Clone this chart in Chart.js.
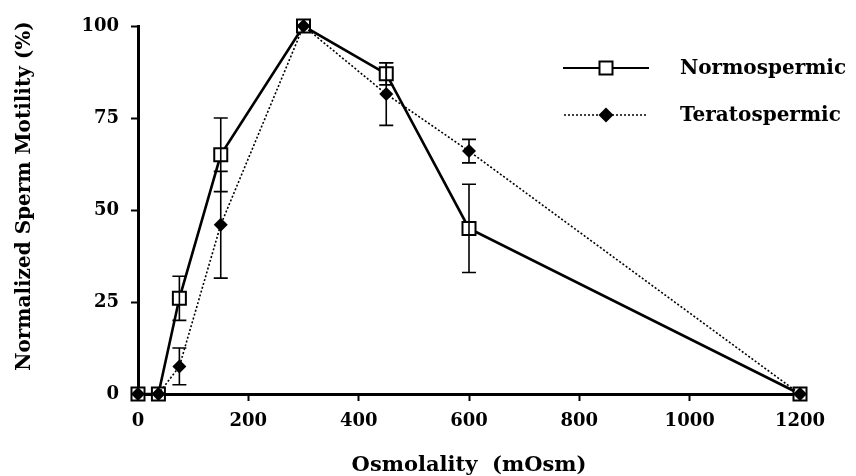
<!DOCTYPE html>
<html>
<head>
<meta charset="utf-8">
<script src="https://cdn.jsdelivr.net/npm/chart.js@4"></script>
<style>
  html, body { margin: 0; padding: 0; background: #fff; }
  #wrap { width: 856px; height: 476px; }
</style>
</head>
<body>
<div id="wrap"><canvas id="chart" width="856" height="476"></canvas></div>
<script>
// values
const osmolality = [0, 37, 75, 150, 300, 450, 600, 1200];
const normoMean = [0, 0, 26, 65, 100, 87, 45, 0];
const normoErr = [0, 0, 6, 10, 0, 3, 12, 0];
const teratoMean = [0, 0, 7.5, 46, 100, 81.5, 66, 0];
const teratoErr = [0, 0, 5, 14.5, 0, 8.5, 3.2, 0];
const seriesNames = ['Normospermic', 'Teratospermic'];
const xTicks = [0, 200, 400, 600, 800, 1000, 1200];
const yTicks = [0, 25, 50, 75, 100];

// wide bold serif, closest to the stretched type of the original
const serif = "'DejaVu Serif', 'Liberation Serif', serif";

function toPoints(xs, ys) {
  return xs.map((x, i) => ({ x: x, y: ys[i] }));
}

// vertical error bars with caps
const errorBars = {
  id: 'errorBars',
  afterDatasetsDraw(chart) {
    const ctx = chart.ctx;
    const xs = chart.scales.x, ys = chart.scales.y;
    const sets = [[teratoMean, teratoErr], [normoMean, normoErr]];
    ctx.save();
    ctx.strokeStyle = '#000';
    ctx.lineWidth = 1.6;
    sets.forEach(([m, e]) => {
      osmolality.forEach((x, i) => {
        if (!e[i]) return;
        const px = xs.getPixelForValue(x);
        const top = ys.getPixelForValue(m[i] + e[i]);
        const bot = ys.getPixelForValue(m[i] - e[i]);
        ctx.beginPath();
        ctx.moveTo(px, top); ctx.lineTo(px, bot);
        ctx.moveTo(px - 7, top); ctx.lineTo(px + 7, top);
        ctx.moveTo(px - 7, bot); ctx.lineTo(px + 7, bot);
        ctx.stroke();
      });
    });
    ctx.restore();
  }
};

// legend drawn inside the plot, upper right
const insideLegend = {
  id: 'insideLegend',
  afterDraw(chart) {
    const ctx = chart.ctx;
    ctx.save();
    ctx.strokeStyle = '#000';
    // Normospermic
    ctx.lineWidth = 1.8;
    ctx.setLineDash([]);
    ctx.beginPath(); ctx.moveTo(563, 68); ctx.lineTo(649, 68); ctx.stroke();
    ctx.fillStyle = '#fff';
    ctx.lineWidth = 2;
    ctx.fillRect(599.5, 61.5, 13, 13);
    ctx.strokeRect(599.5, 61.5, 13, 13);
    // Teratospermic
    ctx.lineWidth = 1.6;
    ctx.setLineDash([2, 2]);
    ctx.beginPath(); ctx.moveTo(564, 115); ctx.lineTo(647, 115); ctx.stroke();
    ctx.setLineDash([]);
    ctx.fillStyle = '#000';
    ctx.beginPath();
    ctx.moveTo(606, 107.5); ctx.lineTo(613.5, 115); ctx.lineTo(606, 122.5); ctx.lineTo(598.5, 115);
    ctx.closePath(); ctx.fill();
    ctx.font = 'bold 20px ' + serif;
    ctx.textBaseline = 'middle';
    ctx.fillText(seriesNames[0], 680, 69);
    ctx.fillText(seriesNames[1], 680, 116);
    ctx.restore();
  }
};

const config = {
  type: 'line',
  data: {
    datasets: [
      {
        label: seriesNames[1],
        data: toPoints(osmolality, teratoMean),
        borderColor: '#000',
        borderWidth: 1.6,
        borderDash: [2, 2],
        pointStyle: 'rectRot',
        pointRadius: 7,
        pointBackgroundColor: '#000',
        pointBorderColor: '#000',
        pointBorderWidth: 0,
        tension: 0,
        clip: false
      },
      {
        label: seriesNames[0],
        data: toPoints(osmolality, normoMean),
        borderColor: '#000',
        borderWidth: 2.6,
        pointStyle: 'rect',
        pointRadius: 9.2,
        pointBackgroundColor: '#fff',
        pointBorderColor: '#000',
        pointBorderWidth: 2,
        tension: 0,
        clip: false
      }
    ]
  },
  options: {
    responsive: false,
    animation: false,
    layout: { padding: { top: 26, right: 56, left: 0, bottom: 0 } },
    plugins: {
      legend: { display: false },
      tooltip: { enabled: false }
    },
    scales: {
      x: {
        type: 'linear',
        min: 0,
        max: 1200,
        afterFit(scale) { scale.height = 82; },
        afterBuildTicks(scale) { scale.ticks = xTicks.map(v => ({ value: v })); },
        grid: { drawOnChartArea: false, tickLength: 7, tickWidth: 2, tickColor: '#000' },
        border: { display: true, color: '#000', width: 3 },
        ticks: {
          color: '#000', padding: 10, maxRotation: 0,
          callback: v => String(v),
          font: { family: serif, size: 18, weight: 'bold' }
        },
        title: {
          display: true,
          text: 'Osmolality  (mOsm)',
          color: '#000',
          padding: { top: 0, bottom: -2 },
          font: { family: serif, size: 21, weight: 'bold' }
        }
      },
      y: {
        min: 0,
        max: 100,
        afterFit(scale) { scale.width = 138; },
        afterBuildTicks(scale) { scale.ticks = yTicks.map(v => ({ value: v })); },
        grid: { drawOnChartArea: false, tickLength: 7, tickWidth: 2, tickColor: '#000' },
        border: { display: true, color: '#000', width: 3 },
        ticks: {
          color: '#000', padding: 12,
          callback: v => String(v),
          font: { family: serif, size: 18, weight: 'bold' }
        },
        title: {
          display: true,
          text: '    Normalized Sperm Motility (%)',
          color: '#000',
          padding: { top: 13, bottom: 0 },
          font: { family: serif, size: 20, weight: 'bold' }
        }
      }
    }
  },
  plugins: [errorBars, insideLegend]
};

new Chart(document.getElementById('chart'), config);
</script>
</body>
</html>
